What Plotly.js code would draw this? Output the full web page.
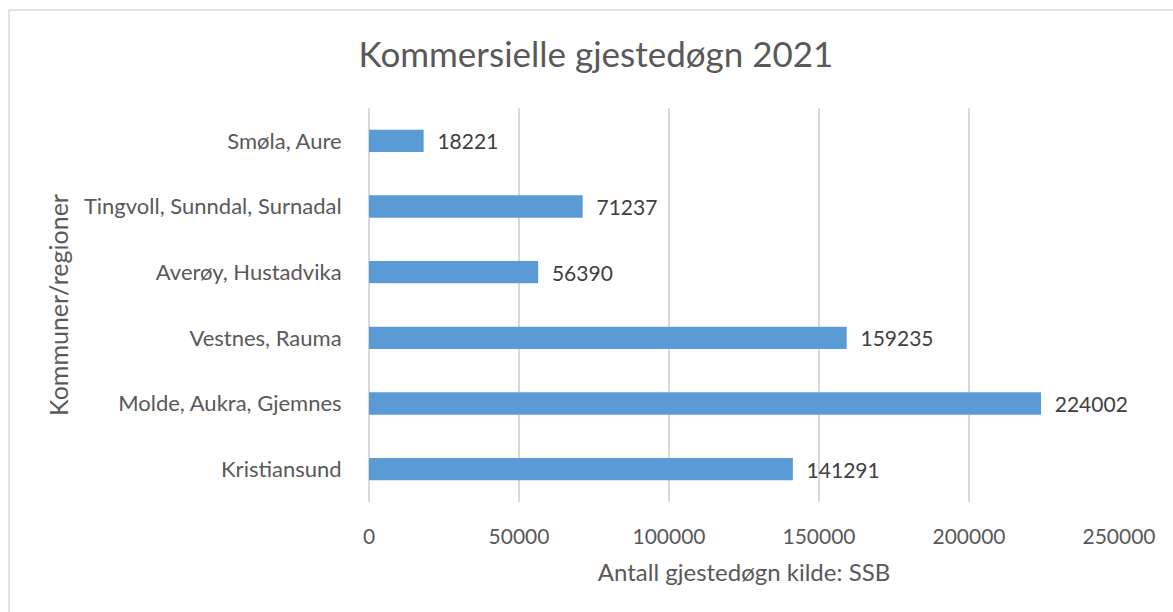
<!DOCTYPE html>
<html>
<head>
<meta charset="utf-8">
<script src="https://cdn.plot.ly/plotly-3.0.1.min.js"></script>
<style>html,body{margin:0;padding:0;background:#fff;}#chart{width:1173px;height:612px;}</style>
</head>
<body>
<div id="chart"></div>
<script>
const categories = ["Kristiansund", "Molde, Aukra, Gjemnes", "Vestnes, Rauma", "Averøy, Hustadvika", "Tingvoll, Sunndal, Surnadal", "Smøla, Aure"];
const values = [141291, 224002, 159235, 56390, 71237, 18221];
const xTicks = [0, 50000, 100000, 150000, 200000, 250000];

const FONT = "Lato, 'Open Sans', sans-serif";
const trace = {
  type: 'bar',
  orientation: 'h',
  y: categories,
  x: values,
  text: values.map(v => '\u00a0\u00a0' + v),
  textposition: 'outside',
  constraintext: 'none',
  cliponaxis: false,
  textfont: {family: FONT, size: 21, color: '#404040'},
  marker: {color: '#5B9BD5'},
  width: 0.34,
  hoverinfo: 'none'
};
const layout = {
  width: 1173, height: 612,
  margin: {l: 369, r: 54, t: 108, b: 110},
  paper_bgcolor: '#ffffff', plot_bgcolor: '#ffffff',
  showlegend: false,
  font: {family: FONT, color: '#595959'},
  title: {text: 'Kommersielle gjestedøgn 2021', font: {family: FONT, size: 35, color: '#595959'}, x: 596 / 1173, xref: 'container', y: 1 - 55 / 612, yref: 'container', xanchor: 'center', yanchor: 'middle'},
  xaxis: {
    range: [0, 250000], tickvals: xTicks, ticktext: xTicks.map(String),
    showgrid: true, gridcolor: '#d9d9d9', gridwidth: 1.5,
    zeroline: true, zerolinecolor: '#d9d9d9', zerolinewidth: 1.5,
    showline: false, ticks: 'outside', ticklen: 16, tickcolor: 'rgba(0,0,0,0)',
    tickfont: {family: FONT, size: 21, color: '#595959'},
    title: {text: 'Antall gjestedøgn kilde: SSB', font: {family: FONT, size: 24, color: '#595959'}, standoff: 16},
    fixedrange: true
  },
  yaxis: {
    type: 'category',
    ticks: 'outside', ticklen: 22, tickcolor: 'rgba(0,0,0,0)',
    tickfont: {family: FONT, size: 22, color: '#595959'},
    showgrid: false, zeroline: false, showline: false,
    title: {text: 'Kommuner/regioner', font: {family: FONT, size: 25, color: '#595959'}, standoff: 8},
    fixedrange: true
  },
  shapes: [{
    type: 'rect', xref: 'paper', yref: 'paper',
    x0: (9 - 369) / 750, x1: 1.2, y0: -0.4, y1: (502 - 10) / 394,
    line: {color: '#d9d9d9', width: 1.5}, fillcolor: 'rgba(0,0,0,0)', layer: 'below'
  }]
};
Plotly.newPlot('chart', [trace], layout, {displayModeBar: false, staticPlot: true});
</script>
</body>
</html>
